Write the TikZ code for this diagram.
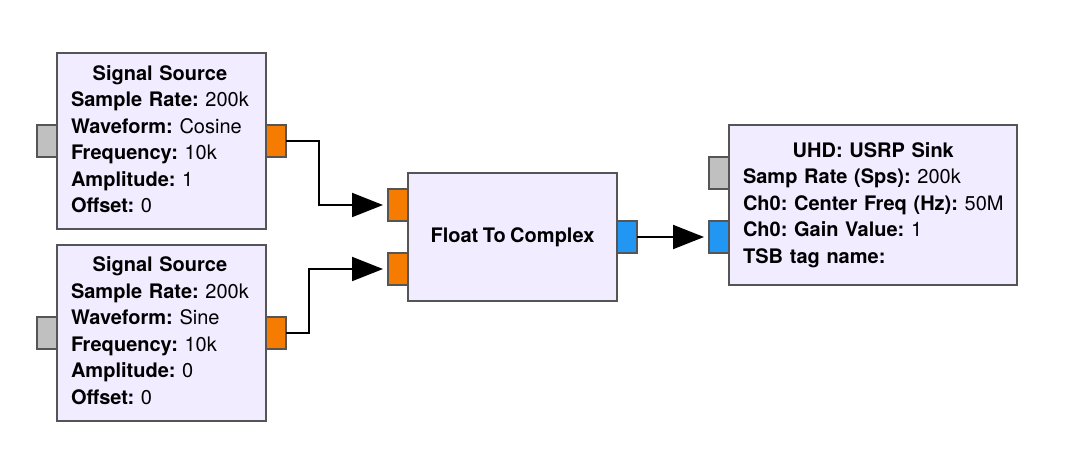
\documentclass[tikz,border=0pt]{standalone}
\usepackage{fontspec}
\setmainfont{TeX Gyre Heros}[WordSpace=0.8]
\usetikzlibrary{arrows.meta}
\newcommand{\blockfont}{\fontsize{10}{13.25}\selectfont\frenchspacing}
\begin{document}
\begin{tikzpicture}[x=0.5pt, y=-0.5pt,
        block/.style={rectangle, draw=blockedge, fill=blockfill, line width=1pt, outer sep=0pt, inner xsep=7pt, inner ysep=0pt, align=left, font=\blockfont},
        port/.style={rectangle, draw=blockedge, line width=1pt, outer sep=0pt, inner sep=0pt, minimum width=10pt, minimum height=16pt},
        wire/.style={line width=1pt, -{Triangle[length=15.5pt, width=12pt]}, shorten >=2.5pt}]
        \definecolor{blockfill}{RGB}{241,236,255}
        \definecolor{blockedge}{RGB}{85,85,85}
        \definecolor{floatport}{RGB}{245,124,0}
        \definecolor{complexport}{RGB}{33,150,243}
        \definecolor{msgport}{RGB}{192,192,192}
        \useasboundingbox (0,0) rectangle (1084,468);

        \node at (161.5, 141) [block, text width=90.5pt, minimum height=88pt] (src1) {\begin{tabular}[t]{@{}l@{}}
            \multicolumn{1}{@{}c@{}}{\textbf{Signal Source}}\\
            \textbf{Sample Rate:} 200k\\
            \textbf{Waveform:} Cosine\\
            \textbf{Frequency:} 10k\\
            \textbf{Amplitude:} 1\\
            \textbf{Offset:} 0
        \end{tabular}};
        \node at (src1.west) [port, fill=msgport, anchor=east] (src1m) {};
        \node at (src1.east) [port, fill=floatport, anchor=west] (src1o) {};

        \node at (161.5, 332.5) [block, text width=90.5pt, minimum height=88pt] (src2) {\begin{tabular}[t]{@{}l@{}}
            \multicolumn{1}{@{}c@{}}{\textbf{Signal Source}}\\
            \textbf{Sample Rate:} 200k\\
            \textbf{Waveform:} Sine\\
            \textbf{Frequency:} 10k\\
            \textbf{Amplitude:} 0\\
            \textbf{Offset:} 0
        \end{tabular}};
        \node at (src2.west) [port, fill=msgport, anchor=east] (src2m) {};
        \node at (src2.east) [port, fill=floatport, anchor=west] (src2o) {};

        \node at (512.5, 237) [block, align=center, minimum width=104.5pt, minimum height=64pt] (f2c) {\textbf{Float To Complex}};
        \node at ([yshift=16pt]f2c.west) [port, fill=floatport, anchor=east] (f2ci1) {};
        \node at ([yshift=-16pt]f2c.west) [port, fill=floatport, anchor=east] (f2ci2) {};
        \node at (f2c.east) [port, fill=complexport, anchor=west] (f2co) {};

        \node at (873, 205) [block, text width=130pt, minimum height=80pt] (sink) {\begin{tabular}[t]{@{}l@{}}
            \multicolumn{1}{@{}c@{}}{\textbf{UHD: USRP Sink}}\\
            \textbf{Samp Rate (Sps):} 200k\\
            \textbf{Ch0: Center Freq (Hz):} 50M\\
            \textbf{Ch0: Gain Value:} 1\\
            \textbf{TSB tag name:}
        \end{tabular}};
        \node at ([yshift=16pt]sink.west) [port, fill=msgport, anchor=east] (sinkm) {};
        \node at ([yshift=-16pt]sink.west) [port, fill=complexport, anchor=east] (sinki) {};

        \draw[wire] (src1o.east) -- ++(16.5pt, 0) |- (f2ci1.west);
        \draw[wire] (src2o.east) -- ++(11.5pt, 0) |- (f2ci2.west);
        \draw[wire] (f2co.east) -- (sinki.west);
    \end{tikzpicture}
\end{document}
